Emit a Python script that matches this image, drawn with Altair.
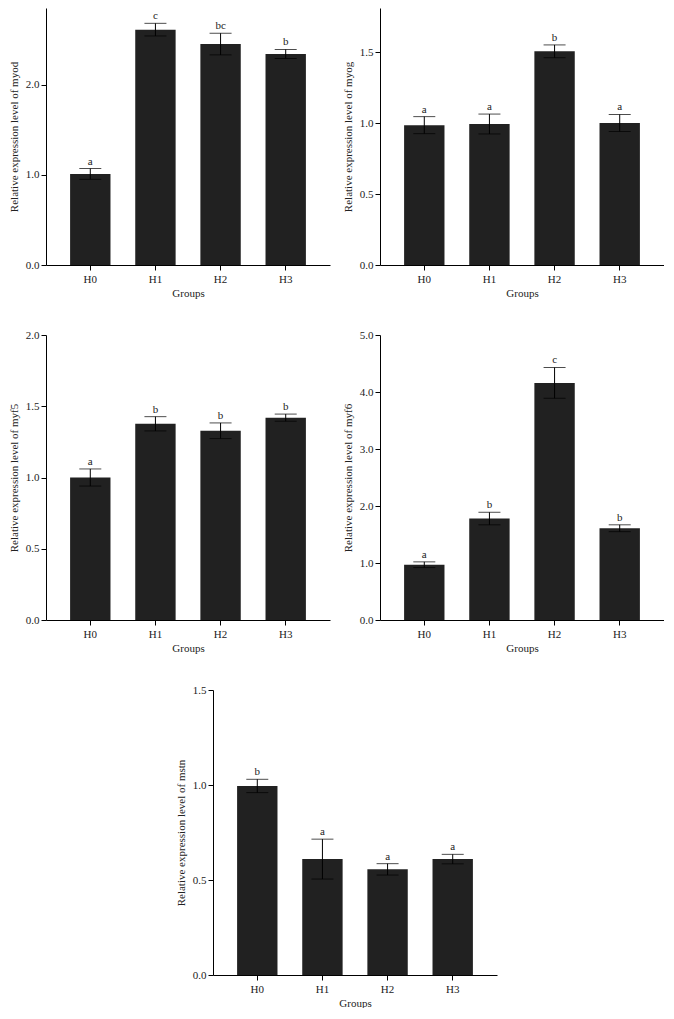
import altair as alt
import pandas as pd

groups = ["H0", "H1", "H2", "H3"]

myod_mean = [1.01, 2.61, 2.45, 2.34]
myod_err = [0.06, 0.07, 0.12, 0.05]
myod_letters = ["a", "c", "bc", "b"]

myog_mean = [0.985, 0.993, 1.505, 1.0]
myog_err = [0.06, 0.07, 0.045, 0.06]
myog_letters = ["a", "a", "b", "a"]

myf5_mean = [1.0, 1.377, 1.328, 1.42]
myf5_err = [0.06, 0.05, 0.055, 0.025]
myf5_letters = ["a", "b", "b", "b"]

myf6_mean = [0.97, 1.78, 4.16, 1.61]
myf6_err = [0.05, 0.11, 0.27, 0.06]
myf6_letters = ["a", "b", "c", "b"]

mstn_mean = [0.995, 0.61, 0.556, 0.61]
mstn_err = [0.035, 0.105, 0.03, 0.025]
mstn_letters = ["b", "a", "a", "a"]

FONT = "Liberation Serif"
FS = 11
W = 284


def panel(mean, err, letters, gene, height, ymax, ticks):
    df = pd.DataFrame({"group": groups, "mean": mean, "err": err, "letter": letters})
    df["lo"] = df["mean"] - df["err"]
    df["hi"] = df["mean"] + df["err"]
    ttl = f"Relative expression level of {gene}"
    x = alt.X(
        "group:N",
        sort=groups,
        title="Groups",
        scale=alt.Scale(paddingInner=0.38, paddingOuter=0.37),
        axis=alt.Axis(labelAngle=0, labelPadding=3, titlePadding=3),
    )
    ys = alt.Scale(domain=[0, ymax], nice=False, zero=True)
    base = alt.Chart(df).encode(x=x)
    bars = base.mark_bar(color="#212121").encode(
        y=alt.Y(
            "mean:Q",
            scale=ys,
            title=ttl,
            axis=alt.Axis(values=ticks, format=".1f", labelPadding=2, titlePadding=6),
        )
    )
    rule = base.mark_rule(color="black", strokeWidth=1).encode(
        y=alt.Y("lo:Q", scale=ys, title=ttl), y2="hi:Q"
    )
    cap_hi = base.mark_tick(color="black", size=22, thickness=1).encode(
        y=alt.Y("hi:Q", scale=ys, title=ttl)
    )
    cap_lo = base.mark_tick(color="black", size=22, thickness=1).encode(
        y=alt.Y("lo:Q", scale=ys, title=ttl)
    )
    text = base.mark_text(
        baseline="bottom", dy=-2, font=FONT, fontSize=FS, color="#222222"
    ).encode(y=alt.Y("hi:Q", scale=ys, title=ttl), text="letter:N")
    return alt.layer(bars, rule, cap_hi, cap_lo, text).properties(width=W, height=height)


p1 = panel(myod_mean, myod_err, myod_letters, "myod", 257, 2.85, [0, 1, 2])
p2 = panel(myog_mean, myog_err, myog_letters, "myog", 257, 1.81, [0, 0.5, 1.0, 1.5])
p3 = panel(myf5_mean, myf5_err, myf5_letters, "myf5", 285, 2.0, [0, 0.5, 1.0, 1.5, 2.0])
p4 = panel(myf6_mean, myf6_err, myf6_letters, "myf6", 285, 5.0, [0, 1, 2, 3, 4, 5])
p5 = panel(mstn_mean, mstn_err, mstn_letters, "mstn", 285, 1.5, [0, 0.5, 1.0, 1.5])

row1 = alt.hconcat(p1, p2, spacing=12)
row2 = alt.hconcat(p3, p4, spacing=12)

chart = (
    alt.vconcat(row1, row2, p5, spacing=31, center=True)
    .properties(padding=0, background="white")
    .configure_view(stroke=None)
    .configure_axis(
        labelFont=FONT,
        titleFont=FONT,
        labelFontSize=FS,
        titleFontSize=FS,
        titleFontWeight="normal",
        labelColor="#222222",
        titleColor="#222222",
        domainColor="black",
        tickColor="black",
        tickSize=5,
        domainWidth=1,
        tickWidth=1,
        grid=False,
    )
)

chart.save("out.html", embed_options={"renderer": "svg", "actions": False})
